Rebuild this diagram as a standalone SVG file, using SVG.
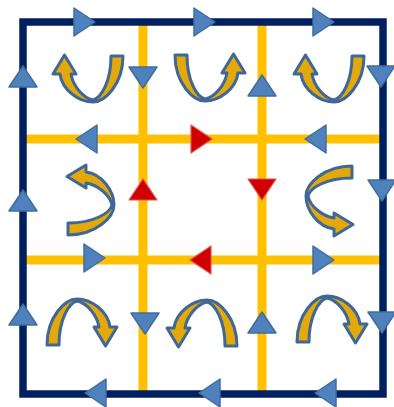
<svg xmlns="http://www.w3.org/2000/svg" xmlns:xlink="http://www.w3.org/1999/xlink" width="394" height="407" viewBox="0 0 394 407">
<style>
.grid{stroke:#FFC000;stroke-width:9;fill:none}
.frame{stroke:#002060;stroke-width:7.5;fill:none}
.tb{fill:#4F81BD;stroke:#3F6D9F;stroke-width:1.5;stroke-linejoin:round}
.tr{fill:#D00000;stroke:#E05050;stroke-width:1.2;stroke-linejoin:round}
.ca{fill:#E3A90A;stroke:#3F6898;stroke-width:3;stroke-linejoin:round}
</style>
<defs>
<path id="tri" d="M-10,-14 L11,0 L-10,14 Z"/>
<path id="curl" d="M0,2 C0,30 18,48 30,48 C44,48 61,36 63,20 L70,20 L58.5,1 L47,20 L52,20 C50,32 40,44 30,46 C22,44 12,28 12,2 Z"/>
</defs>
<rect width="394" height="407" fill="#FFFFFF"/>
<g id="connectors">
<line class="grid" x1="143" y1="25" x2="143" y2="392"/>
<line class="grid" x1="262" y1="25" x2="262" y2="392"/>
<line class="grid" x1="26" y1="139" x2="381" y2="139"/>
<line class="grid" x1="26" y1="260" x2="381" y2="260"/>
</g>
<g id="frame">
<rect class="frame" x="23" y="22" width="360" height="372"/>
</g>
<g id="triangles">
<use xlink:href="#tri" class="tb" transform="translate(84,22)"/>
<use xlink:href="#tri" class="tb" transform="translate(204,22)"/>
<use xlink:href="#tri" class="tb" transform="translate(323,22)"/>
<use xlink:href="#tri" class="tb" transform="translate(381,76) rotate(90)"/>
<use xlink:href="#tri" class="tb" transform="translate(382,190) rotate(90)"/>
<use xlink:href="#tri" class="tb" transform="translate(382,322) rotate(90)"/>
<use xlink:href="#tri" class="tb" transform="translate(96,393) rotate(180)"/>
<use xlink:href="#tri" class="tb" transform="translate(210,393) rotate(180)"/>
<use xlink:href="#tri" class="tb" transform="translate(326,393) rotate(180)"/>
<use xlink:href="#tri" class="tb" transform="translate(23,77) rotate(-90)"/>
<use xlink:href="#tri" class="tb" transform="translate(23,201) rotate(-90)"/>
<use xlink:href="#tri" class="tb" transform="translate(23,315) rotate(-90)"/>
<use xlink:href="#tri" class="tb" transform="translate(143,77) rotate(90)"/>
<use xlink:href="#tri" class="tb" transform="translate(145,323) rotate(90)"/>
<use xlink:href="#tri" class="tb" transform="translate(262,86) rotate(-90)"/>
<use xlink:href="#tri" class="tb" transform="translate(262,323) rotate(-90)"/>
<use xlink:href="#tri" class="tb" transform="translate(87,139) rotate(180)"/>
<use xlink:href="#tri" class="tb" transform="translate(316,139) rotate(180)"/>
<use xlink:href="#tri" class="tb" transform="translate(94,258)"/>
<use xlink:href="#tri" class="tb" transform="translate(323,260)"/>
<use xlink:href="#tri" class="tr" transform="translate(201,139)"/>
<use xlink:href="#tri" class="tr" transform="translate(143,190) rotate(-90)"/>
<use xlink:href="#tri" class="tr" transform="translate(262,189) rotate(90)"/>
<use xlink:href="#tri" class="tr" transform="translate(201,260) rotate(180)"/>
</g>
<g id="curls">
<use id="curl-tl" xlink:href="#curl" class="ca" transform="translate(123,54) scale(-1,1)"/>
<use id="curl-tm" xlink:href="#curl" class="ca" transform="translate(175,53)"/>
<use id="curl-tr" xlink:href="#curl" class="ca" transform="translate(364,54) scale(-1,1)"/>
<use id="curl-ml" xlink:href="#curl" class="ca" transform="translate(66,235) rotate(-90)"/>
<use id="curl-mr" xlink:href="#curl" class="ca" transform="translate(354,166) rotate(90)"/>
<use id="curl-bl" xlink:href="#curl" class="ca" transform="translate(47,347) scale(1,-1)"/>
<use id="curl-bm" xlink:href="#curl" class="ca" transform="translate(237,348) scale(-1,-1)"/>
<use id="curl-br" xlink:href="#curl" class="ca" transform="translate(297,344) scale(1,-1)"/>
</g>
</svg>
